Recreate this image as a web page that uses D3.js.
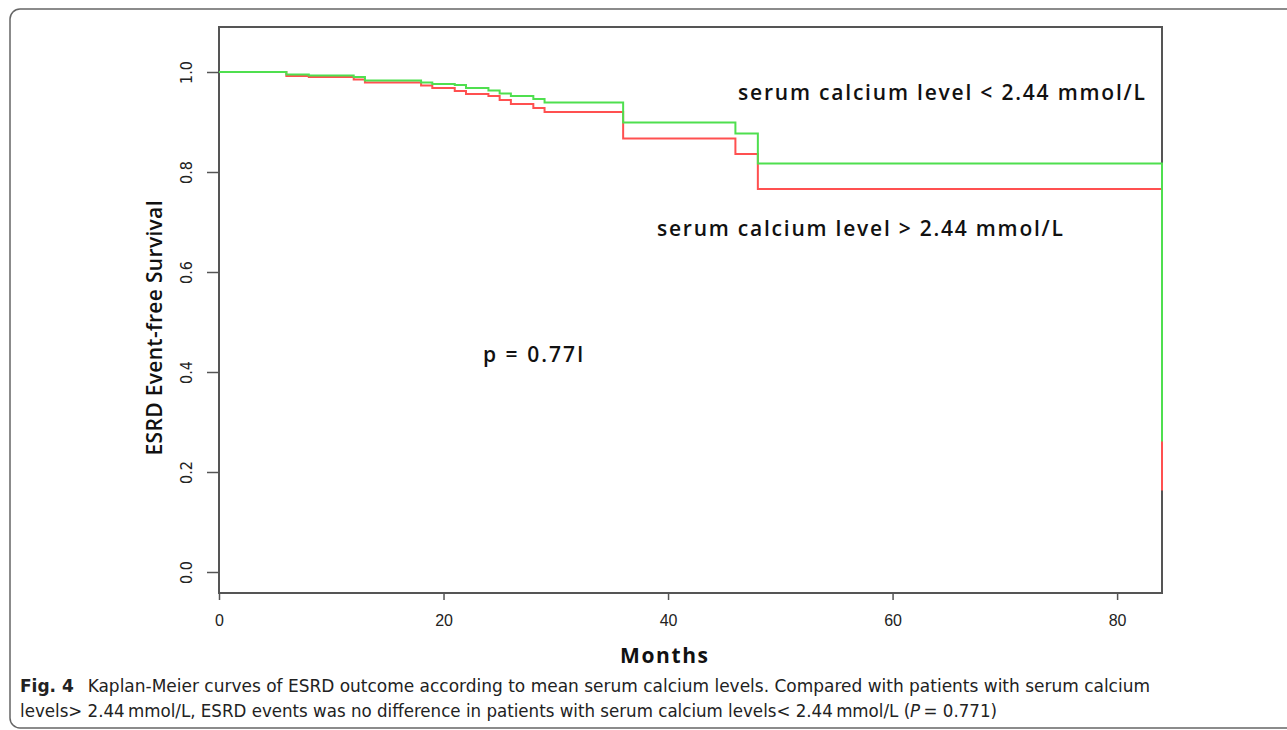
<!DOCTYPE html>
<html>
<head>
<meta charset="utf-8">
<script src="https://cdn.jsdelivr.net/npm/d3@7"></script>
<style>
  body { margin: 0; background: #fff; }
  svg { display: block; }
</style>
</head>
<body>
<svg id="chart"></svg>
<script>
// Kaplan-Meier data
const months = [0, 6, 8, 12, 13, 18, 19, 21, 22, 24, 25, 26, 28, 29, 36, 46, 48, 84];
const survLow = [1.0, 0.995, 0.993, 0.990, 0.983, 0.979, 0.976, 0.974, 0.968, 0.963, 0.957, 0.952, 0.946, 0.939, 0.899, 0.877, 0.817, 0.261];
const survHigh = [1.0, 0.992, 0.990, 0.985, 0.979, 0.973, 0.968, 0.962, 0.956, 0.952, 0.944, 0.936, 0.928, 0.920, 0.867, 0.836, 0.766, 0.163];
const xTicks = [0, 20, 40, 60, 80];
const yTicks = [0, 0.2, 0.4, 0.6, 0.8, 1.0];

const width = 1287, height = 730;
const box = { left: 219, right: 1162, top: 27, bottom: 593 };

const svg = d3.select('#chart')
  .attr('width', width)
  .attr('height', height);

// figure frame
svg.append('rect')
  .attr('x', 10).attr('y', 9)
  .attr('width', 1300).attr('height', 719)
  .attr('rx', 10)
  .attr('fill', 'none')
  .attr('stroke', '#666')
  .attr('stroke-width', 1.5);

const x = d3.scaleLinear().domain([0, 84]).range([box.left, box.right]);
const y = d3.scaleLinear().domain([-0.042, 1.09]).range([box.bottom, box.top]);

// axes
const xAxis = svg.append('g')
  .attr('transform', `translate(0,${box.bottom})`)
  .call(d3.axisBottom(x).tickValues(xTicks).tickSize(7).tickPadding(15));
const yAxis = svg.append('g')
  .attr('transform', `translate(${box.left},0)`)
  .call(d3.axisLeft(y).tickValues(yTicks).tickFormat(d3.format('.1f')).tickSize(12));

[xAxis, yAxis].forEach(a => {
  a.select('.domain').remove();
  a.selectAll('.tick line').attr('stroke', '#555').attr('stroke-width', 1.5);
  a.selectAll('.tick text')
    .attr('fill', '#222')
    .style('font-family', '"Liberation Sans", Arial, sans-serif')
    .style('font-size', '16px');
});

// rotate y tick labels like R's default
yAxis.selectAll('.tick text')
  .attr('x', null).attr('dy', null)
  .attr('text-anchor', 'middle')
  .attr('transform', 'translate(-27,0) rotate(-90)')
  .attr('y', 0)
  .style('font-family', '"Liberation Sans Narrow", "DejaVu Sans Condensed", sans-serif');

// plot box
svg.append('rect')
  .attr('x', box.left).attr('y', box.top)
  .attr('width', box.right - box.left)
  .attr('height', box.bottom - box.top)
  .attr('fill', 'none')
  .attr('stroke', '#555')
  .attr('stroke-width', 2);

// survival curves
const line = d3.line()
  .x(d => x(d[0]))
  .y(d => y(d[1]))
  .curve(d3.curveStepAfter);

svg.append('path')
  .datum(months.map((m, i) => [m, survHigh[i]]))
  .attr('d', line)
  .attr('fill', 'none')
  .attr('stroke', '#ff5050')
  .attr('stroke-width', 2);

svg.append('path')
  .datum(months.map((m, i) => [m, survLow[i]]))
  .attr('d', line)
  .attr('fill', 'none')
  .attr('stroke', '#4fdf4f')
  .attr('stroke-width', 2);

// labels
const labelFont = '"Open Sans", "DejaVu Sans", sans-serif';

svg.append('text')
  .attr('transform', 'translate(162,328) rotate(-90)')
  .attr('text-anchor', 'middle')
  .attr('textLength', 255)
  .attr('lengthAdjust', 'spacing')
  .style('font-family', labelFont)
  .style('font-weight', 600)
  .style('font-size', '21px')
  .attr('fill', '#111')
  .text('ESRD Event-free Survival');

svg.append('text')
  .attr('x', 620).attr('y', 663)
  .attr('textLength', 88)
  .attr('lengthAdjust', 'spacing')
  .style('font-family', labelFont)
  .style('font-weight', 700)
  .style('font-size', '21px')
  .attr('fill', '#111')
  .text('Months');

const notes = [
  { text: 'serum calcium level < 2.44 mmol/L', x: 738, y: 100, w: 407 },
  { text: 'serum calcium level > 2.44 mmol/L', x: 657, y: 236, w: 406 },
  { text: 'p = 0.77l', x: 483, y: 362, w: 100 }
];
svg.selectAll('.note')
  .data(notes)
  .enter()
  .append('text')
  .attr('class', 'note')
  .attr('x', d => d.x)
  .attr('y', d => d.y)
  .attr('textLength', d => d.w)
  .attr('lengthAdjust', 'spacing')
  .style('font-family', labelFont)
  .style('font-weight', 600)
  .style('font-size', '21px')
  .attr('fill', '#111')
  .text(d => d.text);

// caption
const capFont = '"Liberation Sans Narrow", "DejaVu Sans Condensed", "Open Sans", sans-serif';
const cap1 = svg.append('text')
  .attr('x', 20).attr('y', 692)
  .attr('textLength', 1130)
  .attr('lengthAdjust', 'spacingAndGlyphs')
  .style('font-family', capFont)
  .style('font-size', '18px')
  .attr('fill', '#222');
cap1.append('tspan').style('font-weight', 700).text('Fig. 4');
cap1.append('tspan').text('\u2002 Kaplan-Meier curves of ESRD outcome according to mean serum calcium levels. Compared with patients with serum calcium');

const cap2 = svg.append('text')
  .attr('x', 20).attr('y', 717)
  .attr('textLength', 977)
  .attr('lengthAdjust', 'spacingAndGlyphs')
  .style('font-family', capFont)
  .style('font-size', '18px')
  .attr('fill', '#222');
cap2.append('tspan').text('levels> 2.44\u2009mmol/L, ESRD events was no difference in patients with serum calcium levels< 2.44\u2009mmol/L (');
cap2.append('tspan').style('font-style', 'italic').text('P');
cap2.append('tspan').text('\u2009= 0.771)');
</script>
</body>
</html>
